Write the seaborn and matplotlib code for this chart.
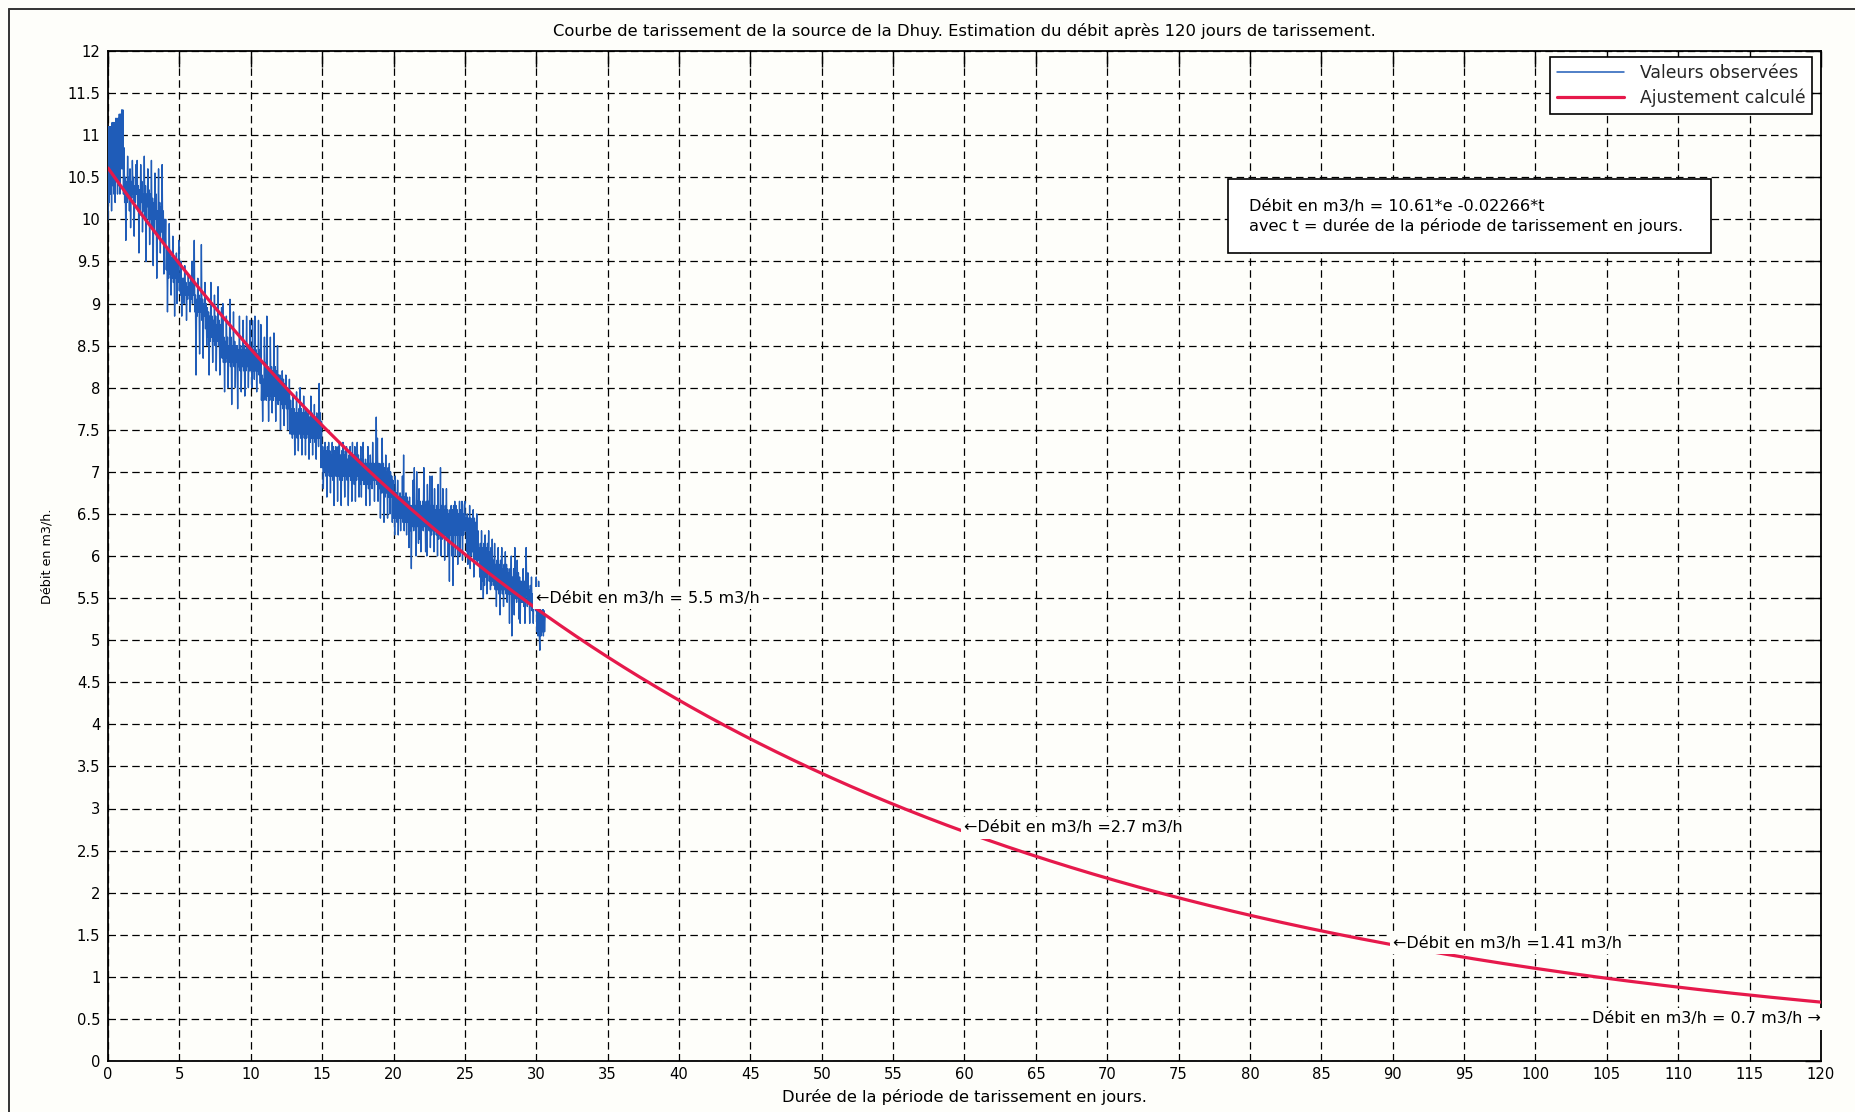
import numpy as np
import pandas as pd
import matplotlib
matplotlib.use("Agg")
import matplotlib.pyplot as plt
from matplotlib.lines import Line2D
from matplotlib.patches import Rectangle
import seaborn as sns

# Observed discharge of the Dhuy spring (m3/h), hourly readings from day 0
obs_step_days = 1 / 24
obs_flow = [
    # day 0
    10.0, 11.1, 10.2, 11.1, 10.3, 11.1, 10.1, 11.15, 10.4, 11.15, 10.3, 11.15,
    10.2, 11.2, 10.5, 11.2, 10.3, 11.2, 10.4, 11.25, 10.3, 11.25, 10.6, 11.3,
    # day 1
    10.6, 11.3, 10.3, 10.85, 10.2, 10.5, 9.75, 10.45, 10.2, 10.75, 10.3, 10.5,
    10.1, 10.6, 9.9, 10.45, 10.25, 10.7, 10.3, 10.5, 9.8, 10.4, 10.2, 10.65,
    # day 2
    10.3, 10.7, 10.1, 10.4, 9.6, 10.35, 10.05, 10.65, 10.2, 10.45, 9.85, 10.3,
    10.1, 10.75, 10.0, 10.4, 9.5, 10.3, 10.15, 10.6, 10.0, 10.35, 9.7, 10.3,
    # day 3
    10.0, 10.7, 9.9, 10.25, 9.45, 10.2, 9.85, 10.55, 10.0, 10.3, 9.3, 10.1,
    9.9, 10.6, 9.8, 10.2, 9.6, 10.15, 9.85, 10.65, 9.75, 10.1, 9.35, 10.0,
    # day 4
    9.7, 10.0, 9.4, 9.65, 8.9, 9.6, 9.3, 9.95, 9.35, 9.6, 9.1, 9.55,
    9.3, 9.8, 9.25, 9.55, 8.85, 9.5, 9.3, 9.6, 9.0, 9.5, 9.25, 9.75,
    # day 5
    9.15, 9.35, 9.1, 9.5, 8.85, 9.3, 9.1, 9.3, 9.0, 9.45, 9.1, 9.25,
    8.8, 9.2, 9.05, 9.35, 9.1, 9.25, 8.9, 9.3, 9.05, 9.5, 9.0, 9.25,
    # day 6
    9.1, 9.75, 8.9, 9.1, 8.15, 9.05, 8.85, 9.3, 8.9, 9.1, 8.4, 9.05,
    8.9, 9.7, 8.8, 9.05, 8.35, 9.0, 8.85, 9.25, 8.7, 9.0, 8.5, 8.95,
    # day 7
    8.6, 8.9, 8.15, 8.85, 8.55, 9.25, 8.6, 8.85, 8.3, 8.8, 8.55, 9.1,
    8.5, 8.85, 8.2, 8.75, 8.55, 9.2, 8.5, 8.8, 8.15, 8.75, 8.5, 8.95,
    # day 8
    8.35, 9.0, 8.3, 8.6, 7.95, 8.55, 8.3, 8.85, 8.35, 8.6, 8.0, 8.5,
    8.3, 9.05, 8.25, 8.6, 7.8, 8.5, 8.3, 8.9, 8.25, 8.55, 8.0, 8.5,
    # day 9
    8.3, 8.5, 7.75, 8.45, 8.25, 8.85, 8.2, 8.5, 7.95, 8.45, 8.25, 8.8,
    8.2, 8.5, 7.9, 8.45, 8.2, 8.85, 8.25, 8.5, 8.0, 8.45, 8.2, 8.8,
    # day 10
    8.2, 8.45, 8.0, 8.8, 8.2, 8.45, 8.1, 8.85, 8.2, 8.45, 7.95, 8.4,
    8.2, 8.8, 8.15, 8.45, 8.05, 8.75, 7.85, 8.15, 7.6, 8.1, 7.85, 8.6,
    # day 11
    7.9, 8.3, 7.85, 8.85, 7.9, 8.25, 7.6, 8.2, 7.85, 8.6, 7.9, 8.25,
    7.7, 8.2, 7.85, 8.65, 7.9, 8.25, 7.6, 8.2, 7.85, 8.5, 7.8, 8.15,
    # day 12
    7.85, 8.15, 7.5, 8.1, 7.8, 8.2, 7.75, 8.1, 7.55, 8.05, 7.8, 8.15,
    7.75, 8.0, 7.5, 7.95, 7.75, 8.1, 7.45, 7.85, 7.45, 7.75, 7.4, 7.9,
    # day 13
    7.45, 7.75, 7.2, 7.7, 7.45, 7.95, 7.4, 7.7, 7.25, 7.75, 7.45, 8.0,
    7.4, 7.75, 7.2, 7.7, 7.45, 7.9, 7.4, 7.7, 7.2, 7.75, 7.4, 7.7,
    # day 14
    7.45, 7.7, 7.15, 7.65, 7.35, 7.9, 7.4, 7.7, 7.2, 7.65, 7.4, 7.8,
    7.35, 7.65, 7.15, 7.7, 7.4, 7.65, 7.3, 8.05, 7.4, 7.7, 7.05, 7.6,
    # day 15
    7.05, 7.3, 6.8, 7.25, 7.0, 7.35, 6.95, 7.25, 6.7, 7.3, 7.0, 7.35,
    6.95, 7.25, 6.75, 7.2, 6.95, 7.35, 6.9, 7.3, 6.6, 7.25, 6.95, 7.3,
    # day 16
    6.95, 7.25, 6.65, 7.3, 6.95, 7.35, 6.9, 7.2, 6.6, 7.25, 6.9, 7.35,
    6.95, 7.2, 6.7, 7.25, 6.95, 7.3, 6.9, 7.15, 6.6, 7.2, 6.95, 7.3,
    # day 17
    6.9, 7.2, 6.65, 7.35, 6.9, 7.2, 6.85, 7.3, 6.65, 7.2, 6.9, 7.35,
    6.95, 7.2, 6.7, 7.15, 6.85, 7.3, 6.7, 7.15, 6.9, 7.35, 6.85, 7.1,
    # day 18
    6.85, 7.15, 6.6, 7.1, 6.85, 7.3, 6.8, 7.1, 6.6, 7.2, 6.85, 7.1,
    6.8, 7.35, 6.9, 7.1, 6.65, 7.1, 6.9, 7.65, 6.85, 7.4, 6.65, 7.1,
    # day 19
    6.8, 7.1, 6.45, 7.05, 6.75, 7.4, 6.75, 7.1, 6.4, 7.05, 6.7, 7.2,
    6.75, 7.0, 6.45, 7.05, 6.7, 7.1, 6.5, 7.0, 6.7, 6.95, 6.4, 6.9,
    # day 20
    6.45, 6.75, 6.25, 6.95, 6.45, 6.75, 6.4, 6.9, 6.25, 6.7, 6.45, 6.75,
    6.3, 6.7, 6.45, 6.95, 6.4, 7.2, 6.3, 6.7, 6.4, 6.75, 6.25, 6.7,
    # day 21
    6.4, 6.65, 6.1, 6.7, 6.3, 6.6, 5.85, 6.6, 6.35, 6.9, 6.3, 7.05,
    6.35, 6.6, 6.0, 7.0, 6.35, 6.65, 6.15, 6.8, 6.2, 6.65, 6.05, 6.6,
    # day 22
    6.35, 6.65, 6.3, 7.05, 6.35, 6.6, 6.05, 6.65, 6.0, 6.85, 6.35, 6.65,
    6.3, 6.95, 6.1, 6.6, 6.25, 6.95, 6.3, 6.6, 6.05, 6.8, 6.3, 6.55,
    # day 23
    6.25, 6.6, 6.0, 6.85, 6.2, 6.55, 6.25, 7.05, 6.0, 6.6, 6.2, 6.8,
    6.25, 6.55, 5.95, 6.6, 6.25, 6.8, 6.2, 6.55, 6.0, 6.5, 5.7, 6.55,
    # day 24
    6.25, 6.6, 6.0, 6.55, 5.65, 6.6, 6.25, 6.65, 6.0, 6.6, 6.25, 6.55,
    5.9, 6.5, 6.25, 6.65, 6.0, 6.55, 6.25, 6.65, 5.95, 6.5, 6.25, 6.6,
    # day 25
    6.65, 6.3, 6.45, 6.05, 6.5, 5.9, 6.45, 6.05, 6.6, 5.85, 6.45, 6.0,
    6.4, 6.05, 6.55, 5.75, 6.45, 6.0, 6.4, 5.95, 6.5, 5.9, 6.3, 5.95,
    # day 26
    6.1, 5.75, 6.15, 5.6, 6.3, 5.7, 6.1, 5.5, 6.15, 5.65, 6.25, 5.75,
    6.1, 5.55, 6.15, 5.8, 6.3, 5.7, 6.05, 5.6, 6.1, 5.65, 6.2, 5.7,
    # day 27
    5.95, 5.65, 6.15, 5.6, 5.9, 5.4, 5.95, 5.6, 6.1, 5.55, 5.9, 5.3,
    5.95, 5.6, 6.1, 5.55, 5.85, 5.4, 5.9, 5.6, 6.05, 5.55, 5.9, 5.45,
    # day 28
    5.85, 5.55, 5.8, 5.2, 5.85, 5.55, 6.0, 5.05, 5.75, 5.5, 5.85, 5.3,
    6.1, 5.5, 5.8, 5.45, 5.95, 5.5, 5.8, 5.25, 5.75, 5.2, 5.7, 5.45,
    # day 29
    5.7, 5.45, 5.85, 5.4, 5.7, 5.2, 5.65, 6.1, 5.6, 5.4, 5.8, 5.45,
    5.6, 5.2, 5.65, 5.4, 5.75, 5.35, 5.55, 5.2, 5.6, 5.4, 5.5, 5.35,
    # day 30
    5.75, 5.1, 5.45, 5.05, 5.7, 5.1, 4.88, 5.4, 5.05, 5.35, 5.1, 5.4,
    5.05, 5.35, 5.1, 5.3,
]

# Fitted recession law: Q = 10.61 * exp(-0.02266 * t)
fit_coef = 10.61
fit_rate = 0.02266
fit_days_max = 120

# Point estimates written on the curve
ann_text = [
    "\u2190Débit en m3/h = 5.5 m3/h",
    "\u2190Débit en m3/h =2.7 m3/h",
    "\u2190Débit en m3/h =1.41 m3/h",
    "Débit en m3/h = 0.7 m3/h \u2192",
]
ann_x = [30, 60, 90, 120]
ann_y = [5.5, 2.77, 1.40, 0.5]
ann_ha = ["left", "left", "left", "right"]

eq_lines = [
    "Débit en m3/h = 10.61*e -0.02266*t",
    "avec t = durée de la période de tarissement en jours.",
]

title_text = ("Courbe de tarissement de la source de la Dhuy. "
              "Estimation du débit après 120 jours de tarissement.")
x_label = "Durée de la période de tarissement en jours."
y_label = "Débit en m3/h."
legend_labels = ["Valeurs observées", "Ajustement calculé"]

x_ticks = list(range(0, 121, 5))
y_ticks = [i * 0.5 for i in range(25)]

BG = "#fefefa"
BLUE = "#1f5cb8"
RED = "#e6194b"

sns.set_theme(style="white")
plt.rcParams["font.family"] = ["DejaVu Sans"]
plt.rcParams["axes.unicode_minus"] = False

W, H = 1855, 1112
fig = plt.figure(figsize=(W / 100, H / 100), dpi=100)
fig.patch.set_facecolor(BG)
ax_l, ax_r, ax_t, ax_b = 108, 1821, 51, 1061
ax = fig.add_axes([ax_l / W, 1 - ax_b / H, (ax_r - ax_l) / W, (ax_b - ax_t) / H])
ax.set_facecolor(BG)

obs = pd.DataFrame({
    "jours": np.arange(len(obs_flow)) * obs_step_days,
    "debit": obs_flow,
})
t_fit = np.linspace(0, fit_days_max, 1201)
fit = pd.DataFrame({"jours": t_fit, "debit": fit_coef * np.exp(-fit_rate * t_fit)})

sns.lineplot(data=obs, x="jours", y="debit", ax=ax, color=BLUE, linewidth=1.0,
             estimator=None, sort=False, zorder=3)
sns.lineplot(data=fit, x="jours", y="debit", ax=ax, color=RED, linewidth=2.3,
             estimator=None, sort=False, zorder=4)

ax.set_xlim(0, 120)
ax.set_ylim(0, 12)
ax.set_xticks(x_ticks)
ax.set_xticklabels([str(v) for v in x_ticks])
ax.set_yticks(y_ticks)
ax.set_yticklabels(["{:g}".format(v) for v in y_ticks])
ax.tick_params(axis="both", direction="in", length=11.5, width=1.0,
               colors="black", labelsize=10.6, top=True, right=True,
               labeltop=False, labelright=False)
ax.tick_params(axis="x", pad=4.5)
ax.tick_params(axis="y", pad=5.5)

ax.set_axisbelow(True)
ax.grid(True, color="black", linestyle=(0, (6, 3.5)), linewidth=0.9)
for sp in ax.spines.values():
    sp.set_color("black")
    sp.set_linewidth(1.3)

ax.set_title(title_text, fontsize=11.8, pad=10.5, color="black")
ax.set_xlabel(x_label, fontsize=11.7, labelpad=5, color="black")
ax.set_ylabel(y_label, fontsize=9.2, labelpad=10, color="black")

for txt, x, y, ha in zip(ann_text, ann_x, ann_y, ann_ha):
    ax.text(x, y, txt, ha=ha, va="center", fontsize=11.5, color="black",
            zorder=6, clip_on=False,
            bbox=dict(boxstyle="square,pad=0.2", fc=BG, ec="none"))

# equation box
bx0, by0 = (1228 - ax_l) / (ax_r - ax_l), (ax_b - 253) / (ax_b - ax_t)
bx1, by1 = (1711 - ax_l) / (ax_r - ax_l), (ax_b - 179) / (ax_b - ax_t)
ax.add_patch(Rectangle((bx0, by0), bx1 - bx0, by1 - by0, transform=ax.transAxes,
                       facecolor="white", edgecolor="black", linewidth=1.2,
                       zorder=6))
for i, line in enumerate(eq_lines):
    ax.text((1249 - ax_l) / (ax_r - ax_l), (ax_b - (207 + 19.5 * i)) / (ax_b - ax_t),
            line, transform=ax.transAxes, ha="left", va="center",
            fontsize=11.6, color="black", zorder=7)

handles = [Line2D([], [], color=BLUE, linewidth=1.1),
           Line2D([], [], color=RED, linewidth=2.3)]
leg = ax.legend(handles, legend_labels, loc="upper right",
                bbox_to_anchor=((1812 - ax_l) / (ax_r - ax_l), (ax_b - 57) / (ax_b - ax_t)),
                borderaxespad=0, fontsize=12.4, frameon=True, fancybox=False,
                framealpha=1, edgecolor="black", facecolor="white",
                handlelength=3.9, handletextpad=0.9, labelspacing=0.38,
                borderpad=0.4)
leg.get_frame().set_linewidth(1.2)
leg.set_zorder(8)

# page frame
fig.add_artist(Line2D([9 / W, 1], [1 - 9 / H, 1 - 9 / H], color="#333333",
                      linewidth=1.4, transform=fig.transFigure))
fig.add_artist(Line2D([9 / W, 9 / W], [0, 1 - 9 / H], color="#333333",
                      linewidth=1.4, transform=fig.transFigure))

fig.savefig("out.png", dpi=100, facecolor=BG)
